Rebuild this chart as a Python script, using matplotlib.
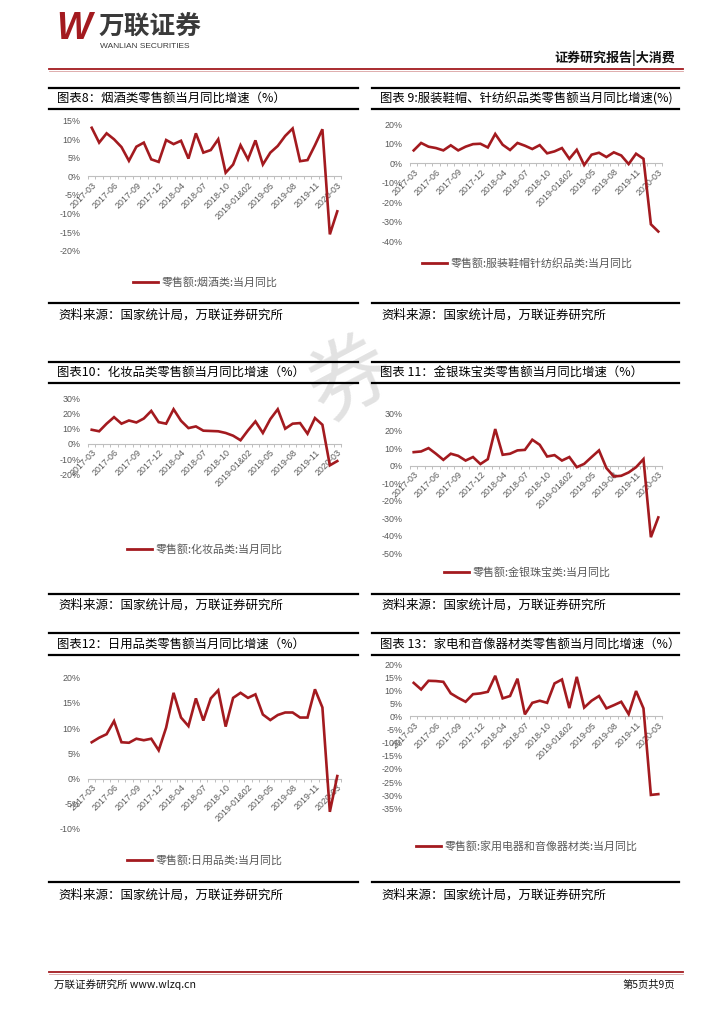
import numpy as np
import matplotlib
matplotlib.use("Agg")
import matplotlib.pyplot as plt
from matplotlib.lines import Line2D

plt.rcParams['font.family'] = ['Noto Sans CJK SC', 'DejaVu Sans']

# ---------------- data ----------------
months = ["2017-03", "2017-04", "2017-05", "2017-06", "2017-07", "2017-08", "2017-09",
          "2017-10", "2017-11", "2017-12", "2018-01&02", "2018-03", "2018-04", "2018-05",
          "2018-06", "2018-07", "2018-08", "2018-09", "2018-10", "2018-11", "2018-12",
          "2019-01&02", "2019-03", "2019-04", "2019-05", "2019-06", "2019-07", "2019-08",
          "2019-09", "2019-10", "2019-11", "2019-12", "2020-01&02", "2020-03"]

tobacco_liquor = [13.1, 9.1, 11.6, 10.0, 7.9, 4.2, 8.0, 9.1, 4.6, 3.9, 9.8, 8.7, 9.6, 4.8,
                  11.6, 6.4, 7.1, 10.0, 1.0, 3.2, 8.4, 4.6, 9.7, 3.2, 6.4, 8.2, 10.9, 12.9,
                  4.1, 4.4, 8.4, 12.7, -15.6, -9.4]
apparel = [6.5, 10.3, 8.4, 7.7, 6.5, 9.1, 6.5, 8.4, 9.7, 9.9, 8.0, 14.9, 9.4, 6.7, 10.3,
           8.9, 7.2, 9.2, 5.0, 6.0, 7.7, 2.2, 6.8, -1.0, 4.3, 5.3, 3.1, 5.5, 3.9, -0.5, 4.8,
           2.2, -31.3, -35.0]
cosmetics = [9.3, 8.3, 13.3, 17.6, 13.3, 15.4, 14.1, 16.7, 21.7, 14.3, 13.3, 22.8, 15.2,
             10.4, 11.5, 8.7, 8.5, 8.3, 7.2, 5.4, 2.4, 8.9, 14.8, 7.2, 16.3, 22.8, 10.0,
             13.3, 13.7, 6.7, 17.0, 12.6, -14.1, -11.3]
jewelry = [7.8, 8.2, 10.1, 6.9, 3.4, 6.9, 5.7, 3.0, 5.0, 1.0, 3.8, 21.0, 6.3, 6.9, 8.8, 9.1,
           14.9, 12.0, 5.3, 6.1, 3.0, 5.0, -0.8, 1.1, 5.0, 8.8, -1.3, -6.1, -5.7, -3.8, -0.8,
           3.8, -40.8, -29.5]
daily_use = [7.2, 8.1, 8.8, 11.4, 7.2, 7.1, 7.9, 7.6, 7.9, 5.6, 10.1, 17.0, 12.1, 10.4, 15.9,
             11.5, 15.9, 17.5, 10.3, 16.0, 17.0, 16.0, 16.7, 12.7, 11.6, 12.6, 13.1, 13.1,
             12.1, 12.1, 17.7, 14.1, -6.6, 0.5]
appliances = [12.8, 10.3, 13.6, 13.5, 13.2, 8.8, 7.1, 5.6, 8.5, 8.8, 9.4, 15.5, 6.9, 7.8,
              14.4, 0.8, 5.2, 6.0, 5.2, 12.6, 14.1, 3.2, 15.1, 3.4, 6.0, 7.8, 3.1, 4.3, 5.6,
              0.9, 9.7, 3.1, -29.9, -29.6]

titles = ["图表8：烟酒类零售额当月同比增速（%）",
          "图表 9:服装鞋帽、针纺织品类零售额当月同比增速(%)",
          "图表10：化妆品类零售额当月同比增速（%）",
          "图表 11：金银珠宝类零售额当月同比增速（%）",
          "图表12：日用品类零售额当月同比增速（%）",
          "图表 13：家电和音像器材类零售额当月同比增速（%）"]
legend_labels = ["零售额:烟酒类:当月同比",
                 "零售额:服装鞋帽针纺织品类:当月同比",
                 "零售额:化妆品类:当月同比",
                 "零售额:金银珠宝类:当月同比",
                 "零售额:日用品类:当月同比",
                 "零售额:家用电器和音像器材类:当月同比"]
y_ranges = [(-20, 15, 5), (-40, 20, 10), (-20, 30, 10), (-50, 30, 10), (-10, 20, 5), (-35, 20, 5)]
source_text = "资料来源：国家统计局，万联证券研究所"
series_list = [tobacco_liquor, apparel, cosmetics, jewelry, daily_use, appliances]

# ---------------- layout ----------------
W, H = 724, 1024
fig = plt.figure(figsize=(W / 100, H / 100), dpi=100)
fig.patch.set_facecolor("white")

def fx(x):
    return x / W

def fy(y):
    return 1 - y / H

RED = "#A31A1F"
GRAY = "#595959"

# watermark
fig.text(fx(350), fy(380), "券", fontsize=60, color="#E2E2E2", rotation=28,
         ha="center", va="center", zorder=0)

# header
fig.text(fx(56), fy(29), "W", fontsize=27, color=RED, fontweight="bold", style="italic",
         family=["Liberation Sans Narrow", "Liberation Sans", "DejaVu Sans"],
         ha="left", va="center")
fig.text(fx(99), fy(26), "万联证券", fontsize=18.5, color="#3A3A3A", fontweight="bold",
         ha="left", va="center")
fig.text(fx(100), fy(46), "WANLIAN SECURITIES", fontsize=6.0, color="#3A3A3A",
         family=["Liberation Sans", "DejaVu Sans"], ha="left", va="center")
fig.text(fx(675), fy(58), "证券研究报告|大消费", fontsize=9.4, color="#111111",
         fontweight="bold", ha="right", va="center")
fig.add_artist(Line2D([fx(49), fx(683)], [fy(69), fy(69)], color=RED, lw=1.3))
fig.add_artist(Line2D([fx(49), fx(683)], [fy(70.5), fy(70.5)], color="#D9A0A0", lw=0.6))

# footer
fig.add_artist(Line2D([fx(49), fx(683)], [fy(972), fy(972)], color=RED, lw=1.3))
fig.add_artist(Line2D([fx(49), fx(683)], [fy(973.5), fy(973.5)], color="#D9A0A0", lw=0.6))
fig.text(fx(54), fy(985), "万联证券研究所 www.wlzq.cn", fontsize=7.6, color="#111111",
         ha="left", va="center")
fig.text(fx(675), fy(985), "第5页共9页", fontsize=7.4, color="#111111", ha="right", va="center")

col_x = [(49, 358), (372, 679)]
col_plot = [(88, 341), (410, 662)]
row_y = [(88, 109, 303, 315), (362, 383, 594, 605), (633, 655, 882, 895)]
# plot area vertical bounds (top tick, bottom tick) in pixels, per chart
plot_y = [(120.7, 250.7), (124.0, 241.3), (398.3, 474.3), (413.3, 553.3),
          (677.7, 829.0), (664.0, 808.3)]
legend_pos = [(205, 282), (527, 263), (205, 549), (527, 572), (205, 860), (527, 846)]

x = np.arange(len(months))
tick_idx = list(range(0, len(months), 3))

for i, (series, title, lab, (lo, hi, st)) in enumerate(zip(series_list, titles, legend_labels, y_ranges)):
    col = i % 2
    row = i // 2
    cx0, cx1 = col_x[col]
    ty0, ty1, by, sy = row_y[row]
    # frame lines
    fig.add_artist(Line2D([fx(cx0), fx(cx1)], [fy(ty0), fy(ty0)], color="black", lw=1.6))
    fig.add_artist(Line2D([fx(cx0), fx(cx1)], [fy(ty1), fy(ty1)], color="black", lw=1.6))
    fig.add_artist(Line2D([fx(cx0), fx(cx1)], [fy(by), fy(by)], color="black", lw=1.6))
    fig.text(fx(cx0 + 8), fy((ty0 + ty1) / 2), title, fontsize=8.9, color="black",
             ha="left", va="center")
    fig.text(fx(cx0 + 9), fy(sy), source_text, fontsize=9.0, color="black",
             ha="left", va="center", style="italic")

    px0, px1 = col_plot[col]
    pt, pb = plot_y[i]
    ax = fig.add_axes([fx(px0), fy(pb), (px1 - px0) / W, (pb - pt) / H])
    ax.patch.set_alpha(0)
    ax.plot(x, series, color=RED, lw=1.9, solid_joinstyle="miter", zorder=3)
    ax.set_xlim(-0.5, len(months) - 0.5)
    ax.set_ylim(lo, hi)
    yt = np.arange(lo, hi + st / 2, st)
    ax.set_yticks(yt)
    ax.set_yticklabels([f"{int(v)}%" for v in yt], fontsize=6.4, color=GRAY,
                       family=["Liberation Sans", "DejaVu Sans"])
    ax.tick_params(axis="y", length=0, pad=5.5)
    for s in ["left", "right", "top"]:
        ax.spines[s].set_visible(False)
    ax.spines["bottom"].set_position(("data", 0))
    ax.spines["bottom"].set_color("#BFBFBF")
    ax.spines["bottom"].set_linewidth(0.8)
    ax.set_xticks(tick_idx)
    ax.set_xticklabels([months[k] for k in tick_idx], rotation=45, ha="right",
                       rotation_mode="anchor", fontsize=6.4, color=GRAY,
                       family=["Liberation Sans", "DejaVu Sans"])
    ax.set_xticks(np.arange(-0.5, len(months), 1), minor=True)
    ax.tick_params(axis="x", which="major", length=0, pad=3)
    ax.tick_params(axis="x", which="minor", length=2.5, color="#BFBFBF", width=0.7)
    ax.zorder = 2

    lx, ly = legend_pos[i]
    h = Line2D([], [], color=RED, lw=2.0)
    ax.legend([h], [lab], loc="center", bbox_to_anchor=(fx(lx), fy(ly)),
              bbox_transform=fig.transFigure, frameon=False, fontsize=7.9,
              labelcolor=GRAY, handlelength=2.3, handletextpad=0.3, borderpad=0)

fig.savefig("out.png", dpi=100, facecolor="white")
